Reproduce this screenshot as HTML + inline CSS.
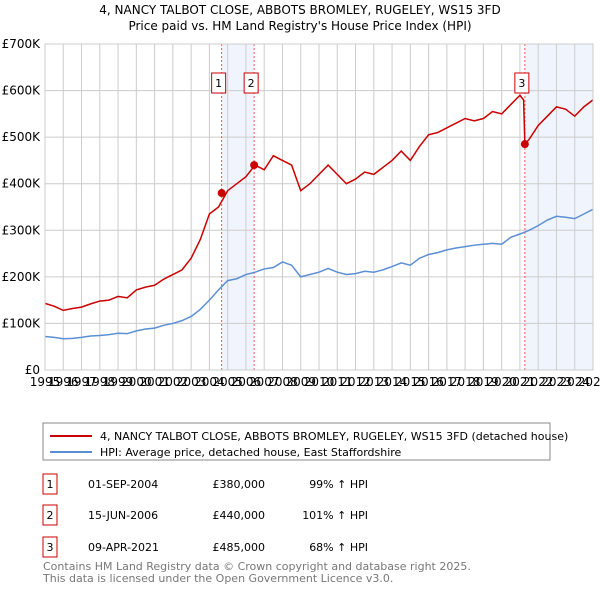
<!DOCTYPE html>
<html><head><meta charset="utf-8"><style>
body{margin:0;background:#fff;font-family:"Liberation Sans","DejaVu Sans",sans-serif;}
svg text{font-family:"DejaVu Sans","Liberation Sans",sans-serif;}
</style></head><body>
<svg id="c" width="600" height="590" xmlns="http://www.w3.org/2000/svg">
<text x="300" y="14" text-anchor="middle" font-size="12">4, NANCY TALBOT CLOSE, ABBOTS BROMLEY, RUGELEY, WS15 3FD</text>
<text x="300" y="30" text-anchor="middle" font-size="12">Price paid vs. HM Land Registry's House Price Index (HPI)</text>
<g id="plot"></g>
<rect x="43" y="423" width="507" height="37" fill="none" stroke="#888"/>
<line x1="50" y1="436" x2="92" y2="436" stroke="#cc0000" stroke-width="2"/>
<text x="100" y="440" font-size="11">4, NANCY TALBOT CLOSE, ABBOTS BROMLEY, RUGELEY, WS15 3FD (detached house)</text>
<line x1="50" y1="452" x2="92" y2="452" stroke="#5b8fd4" stroke-width="2"/>
<text x="100" y="456" font-size="11">HPI: Average price, detached house, East Staffordshire</text>
<g font-size="11">
<rect x="43" y="474" width="14" height="20" fill="#fff" stroke="#cc0000"/><text x="50" y="488" text-anchor="middle">1</text>
<text x="88" y="488">01-SEP-2004</text><text x="265" y="488" text-anchor="end">£380,000</text><text x="368" y="488" text-anchor="end">99% ↑ HPI</text>
<rect x="43" y="505" width="14" height="20" fill="#fff" stroke="#cc0000"/><text x="50" y="519" text-anchor="middle">2</text>
<text x="88" y="519">15-JUN-2006</text><text x="265" y="519" text-anchor="end">£440,000</text><text x="368" y="519" text-anchor="end">101% ↑ HPI</text>
<rect x="43" y="537" width="14" height="20" fill="#fff" stroke="#cc0000"/><text x="50" y="551" text-anchor="middle">3</text>
<text x="88" y="551">09-APR-2021</text><text x="265" y="551" text-anchor="end">£485,000</text><text x="368" y="551" text-anchor="end">68% ↑ HPI</text>
</g>
<text x="43" y="570" font-size="11" fill="#777">Contains HM Land Registry data © Crown copyright and database right 2025.</text>
<text x="43" y="582" font-size="11" fill="#777">This data is licensed under the Open Government Licence v3.0.</text>
</svg>
<script>
const hpiYears=[1995,1995.5,1996,1996.5,1997,1997.5,1998,1998.5,1999,1999.5,2000,2000.5,2001,2001.5,2002,2002.5,2003,2003.5,2004,2004.5,2005,2005.5,2006,2006.5,2007,2007.5,2008,2008.5,2009,2009.5,2010,2010.5,2011,2011.5,2012,2012.5,2013,2013.5,2014,2014.5,2015,2015.5,2016,2016.5,2017,2017.5,2018,2018.5,2019,2019.5,2020,2020.5,2021,2021.5,2022,2022.5,2023,2023.5,2024,2024.5,2025];
const hpiValues=[72,70,67,68,70,73,74,76,79,78,84,88,90,96,100,106,115,130,150,172,192,196,205,210,217,220,232,225,200,205,210,218,210,205,207,212,210,215,222,230,225,240,248,252,258,262,265,268,270,272,270,285,292,300,310,322,330,328,325,335,345];
const priceYears=[1995,1995.5,1996,1996.5,1997,1997.5,1998,1998.5,1999,1999.5,2000,2000.5,2001,2001.5,2002,2002.5,2003,2003.5,2004,2004.5,2005,2005.5,2006,2006.5,2007,2007.5,2008,2008.5,2009,2009.5,2010,2010.5,2011,2011.5,2012,2012.5,2013,2013.5,2014,2014.5,2015,2015.5,2016,2016.5,2017,2017.5,2018,2018.5,2019,2019.5,2020,2020.5,2021,2021.2,2021.27,2021.5,2022,2022.5,2023,2023.5,2024,2024.5,2025];
const priceValues=[143,137,128,132,135,142,148,150,158,155,172,178,182,195,205,215,240,280,335,350,385,400,415,440,430,460,450,440,385,400,420,440,420,400,410,425,420,435,450,470,450,480,505,510,520,530,540,535,540,555,550,570,590,580,485,495,525,545,565,560,545,565,580];
const saleYears=[2004.67,2006.45,2021.27];
const saleValues=[380,440,485];
const saleLabels=["1","2","3"];
const yTicks=[0,100,200,300,400,500,600,700];
const yTickLabels=["£0","£100K","£200K","£300K","£400K","£500K","£600K","£700K"];
const xTicks=[1995,1996,1997,1998,1999,2000,2001,2002,2003,2004,2005,2006,2007,2008,2009,2010,2011,2012,2013,2014,2015,2016,2017,2018,2019,2020,2021,2022,2023,2024,2025];

const X0=45,X1=593,Y0=370,Y1=44;
const xs=y=>X0+(y-1995)/30*(X1-X0);
const ys=v=>Y0-v/700*(Y0-Y1);
const NS="http://www.w3.org/2000/svg";
const g=document.getElementById('plot');
function mk(t,a){const e=document.createElementNS(NS,t);for(const k in a)e.setAttribute(k,a[k]);g.appendChild(e);return e;}
let s1=mk('rect',{x:xs(saleYears[0]),y:Y1,width:xs(saleYears[1])-xs(saleYears[0]),height:Y0-Y1,fill:'#f0f4fc'});


let s2=mk('rect',{x:xs(saleYears[2]),y:Y1,width:X1-xs(saleYears[2]),height:Y0-Y1,fill:'#f0f4fc'});


xTicks.forEach(t=>{
 const l=mk('line',{x1:xs(t),x2:xs(t),y1:Y1,y2:Y0,stroke:'#ccc','stroke-width':1});
 
 
 const tx=mk('text',{x:xs(t),y:Y0+16,'font-size':12,'text-anchor':'middle'});
 tx.textContent=t;
 
 
});
yTicks.forEach((t,i)=>{
 const l=mk('line',{x1:X0,x2:X1,y1:ys(t),y2:ys(t),stroke:'#ccc','stroke-width':1});
 
 
 const tx=mk('text',{x:40,y:ys(t)+4,'font-size':12,'text-anchor':'end'});
 tx.textContent=yTickLabels[i];
 
 
});
saleYears.forEach((y,i)=>{
 const l=mk('line',{x1:xs(y),x2:xs(y),y1:Y1,y2:Y0,stroke:'#e55','stroke-width':1,'stroke-dasharray':'2,2'});
 
 
 const r=mk('rect',{x:xs(y)-10,y:73,width:14,height:20,fill:'#fff',stroke:'#cc0000'});
 
 
 const t=mk('text',{x:xs(y)-3,y:87,'font-size':11,'text-anchor':'middle'});
 t.textContent=saleLabels[i];
 
 
});
const hp=mk('polyline',{points:hpiYears.map((y,i)=>xs(y)+','+ys(hpiValues[i])).join(' '),fill:'none',stroke:'#5b8fd4','stroke-width':1.5});


const pp=mk('polyline',{points:priceYears.map((y,i)=>xs(y)+','+ys(priceValues[i])).join(' '),fill:'none',stroke:'#cc0000','stroke-width':1.5});


saleYears.forEach((y,i)=>{
 const c=mk('circle',{cx:xs(y),cy:ys(saleValues[i]),r:4,fill:'#cc0000'});
 
 
});
const ax=mk('rect',{x:X0,y:Y1,width:X1-X0,height:Y0-Y1,fill:'none',stroke:'#ccc'});


</script>
</body></html>
